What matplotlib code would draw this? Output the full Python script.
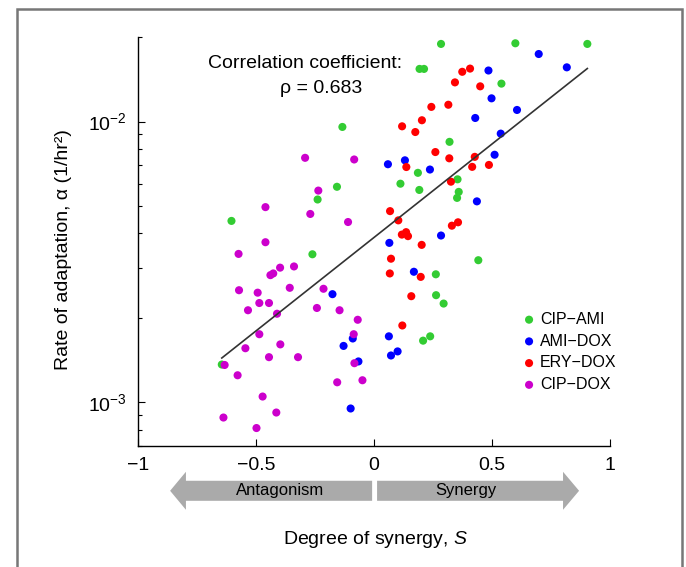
import matplotlib
matplotlib.use("Agg")
import matplotlib.pyplot as plt
from matplotlib.patches import Rectangle, Polygon
from matplotlib.ticker import FixedLocator, NullFormatter, LogLocator
import matplotlib.transforms as mtransforms

plt.rcParams['font.family'] = ['Liberation Sans', 'DejaVu Sans']
plt.rcParams['mathtext.fontset'] = 'custom'
plt.rcParams['mathtext.rm'] = 'Liberation Sans'
plt.rcParams['mathtext.it'] = 'Liberation Sans:italic'

# Data: degree of synergy S vs rate of adaptation alpha (1/hr^2)
cip_ami_x = [-0.134, -0.157, -0.239, -0.604, -0.261, -0.645, 0.284, 0.193, 0.212, 0.320,
             0.186, 0.112, 0.192, 0.354, 0.359, 0.352, 0.599, 0.904, 0.540, 0.442,
             0.262, 0.263, 0.295, 0.208, 0.238]
cip_ami_y = [0.00957, 0.00586, 0.00528, 0.00443, 0.00337, 0.001365, 0.0189, 0.0154, 0.0154, 0.00847,
             0.00657, 0.00601, 0.00571, 0.00623, 0.00562, 0.00535, 0.0190, 0.0189, 0.01365, 0.00321,
             0.00286, 0.00241, 0.00225, 0.00166, 0.00172]

ami_dox_x = [0.698, 0.817, 0.485, 0.498, 0.606, 0.429, 0.537, 0.511, 0.059, 0.131,
             0.237, 0.436, 0.284, 0.065, 0.169, -0.176, 0.063, 0.100, 0.072, -0.090,
             -0.129, -0.066, -0.099]
ami_dox_y = [0.0174, 0.0156, 0.0152, 0.0121, 0.0110, 0.0103, 0.00906, 0.00762, 0.00705, 0.00728,
             0.00675, 0.00520, 0.00393, 0.00370, 0.00292, 0.00243, 0.00172, 0.00152, 0.00147, 0.00169,
             0.00159, 0.00140, 0.000952]

ery_dox_x = [0.374, 0.407, 0.343, 0.450, 0.243, 0.315, 0.119, 0.203, 0.175, 0.260,
             0.319, 0.427, 0.416, 0.487, 0.137, 0.326, 0.068, 0.103, 0.330, 0.356,
             0.118, 0.136, 0.144, 0.202, 0.072, 0.067, 0.198, 0.158, 0.120]
ery_dox_y = [0.01504, 0.01544, 0.01379, 0.01335, 0.01128, 0.01148, 0.00962, 0.01011, 0.00918, 0.00779,
             0.00740, 0.00749, 0.00690, 0.00701, 0.00689, 0.00611, 0.00480, 0.00445, 0.00426, 0.00438,
             0.00396, 0.00404, 0.00391, 0.00364, 0.00325, 0.00288, 0.00280, 0.00239, 0.00188]

cip_dox_x = [-0.292, -0.084, -0.236, -0.460, -0.270, -0.110, -0.460, -0.574, -0.398, -0.339,
             -0.439, -0.427, -0.572, -0.493, -0.357, -0.214, -0.486, -0.445, -0.534, -0.411,
             -0.242, -0.146, -0.069, -0.486, -0.086, -0.545, -0.397, -0.445, -0.322, -0.633,
             -0.083, -0.578, -0.156, -0.049, -0.472, -0.638, -0.414, -0.498]
cip_dox_y = [0.00743, 0.00733, 0.00568, 0.00496, 0.00469, 0.00439, 0.00372, 0.00338, 0.00302, 0.00305,
             0.00284, 0.00288, 0.00251, 0.00246, 0.00256, 0.00254, 0.00226, 0.00226, 0.00213, 0.00207,
             0.00217, 0.00213, 0.00197, 0.00175, 0.00175, 0.00156, 0.00161, 0.00145, 0.00145, 0.00136,
             0.00138, 0.00125, 0.00118, 0.00120, 0.00105, 0.000884, 0.000921, 0.000811]

# regression line end points
fit_x = [-0.645, 0.904]
fit_y = [0.00144, 0.01545]

series = [
    ("CIP\u2212AMI", cip_ami_x, cip_ami_y, "#33cc33"),
    ("AMI\u2212DOX", ami_dox_x, ami_dox_y, "#0000ff"),
    ("ERY\u2212DOX", ery_dox_x, ery_dox_y, "#ff0000"),
    ("CIP\u2212DOX", cip_dox_x, cip_dox_y, "#cc00cc"),
]

fig = plt.figure(figsize=(6.86, 5.67), dpi=100)
ax = fig.add_axes([0.2012, 0.2134, 0.688, 0.7213])

for name, xs, ys, col in series:
    ax.scatter(xs, ys, s=34, color=col, edgecolors='none', label=name, zorder=3)

ax.plot(fit_x, fit_y, color='#333333', lw=1.2, zorder=4)

ax.set_yscale('log')
ax.set_xlim(-1, 1)
ax.set_ylim(7e-4, 2e-2)

ax.set_xticks([-1, -0.5, 0, 0.5, 1])
ax.set_xticklabels(['\u22121', '\u22120.5', '0', '0.5', '1'])
ax.yaxis.set_major_locator(FixedLocator([1e-3, 1e-2]))
ax.yaxis.set_minor_locator(LogLocator(base=10, subs=range(2, 10)))
ax.yaxis.set_minor_formatter(NullFormatter())
ax.set_yticklabels([r'$10^{-3}$', r'$10^{-2}$'])

ax.tick_params(axis='both', which='major', direction='in', length=5, width=0.8,
               labelsize=14, pad=8)
ax.tick_params(axis='y', which='minor', direction='in', length=3, width=0.8)
ax.spines['top'].set_visible(False)
ax.spines['right'].set_visible(False)
ax.spines['left'].set_linewidth(1.0)
ax.spines['bottom'].set_linewidth(1.0)

# correlation annotation
tr = mtransforms.blended_transform_factory(ax.transData, ax.transAxes)
ax.text(-0.292, 0.936, 'Correlation coefficient:', transform=tr,
        ha='center', va='center', fontsize=14)
ax.text(-0.225, 0.875, '\u03c1 = 0.683', transform=tr,
        ha='center', va='center', fontsize=14)

leg = ax.legend(loc='center left', bbox_to_anchor=(0.815, 0.23), frameon=False, fontsize=11.5,
                handlelength=0.8, handletextpad=0.3, labelspacing=0.42, borderpad=0,
                borderaxespad=0, scatterpoints=1)

# antagonism / synergy arrows below the axis
arrow_col = '#aaaaaa'
yb0, yb1 = -0.085, -0.134
yh0, yh1 = -0.063, -0.156
left_arrow = Polygon([(-0.864, (yb0 + yb1) / 2), (-0.797, yh0), (-0.797, yb0), (-0.008, yb0),
                      (-0.008, yb1), (-0.797, yb1), (-0.797, yh1)],
                     closed=True, transform=tr, color=arrow_col, clip_on=False, lw=0)
right_arrow = Polygon([(0.869, (yb0 + yb1) / 2), (0.801, yh0), (0.801, yb0), (0.013, yb0),
                       (0.013, yb1), (0.801, yb1), (0.801, yh1)],
                      closed=True, transform=tr, color=arrow_col, clip_on=False, lw=0)
ax.add_patch(left_arrow)
ax.add_patch(right_arrow)
ax.text(-0.40, (yb0 + yb1) / 2, 'Antagonism', transform=tr, ha='center', va='center', fontsize=12)
ax.text(0.39, (yb0 + yb1) / 2, 'Synergy', transform=tr, ha='center', va='center', fontsize=12)

fig.text(0.547, 0.048, 'Degree of synergy, $S$', ha='center', va='center', fontsize=14)
fig.text(0.092, 0.56, 'Rate of adaptation, \u03b1 (1/hr\u00b2)', ha='center', va='center',
         rotation=90, fontsize=14)

# outer frame of the figure panel
frame = Rectangle((17 / 686, -0.05), (682 - 17) / 686, 1.05 - 9 / 567, transform=fig.transFigure,
                  fill=False, edgecolor='#777777', lw=1.8, clip_on=False)
fig.patches.append(frame)

fig.savefig('out.png', dpi=100)
